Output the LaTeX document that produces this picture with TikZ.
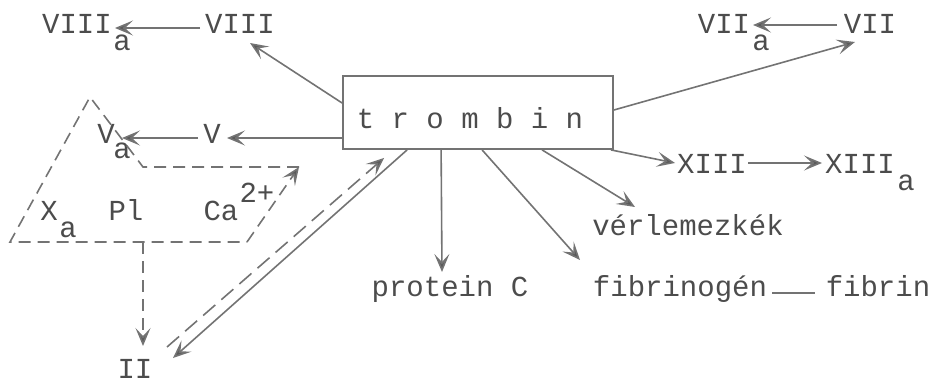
\documentclass[tikz,border=0pt]{standalone}
\usepackage{fontspec}
\setmonofont{Liberation Mono}
\usetikzlibrary{arrows.meta}
\begin{document}
\begin{tikzpicture}[x=1pt,y=-1pt,
  txt/.style={font=\ttfamily\fontsize{29}{34}\selectfont, text=black!70, inner sep=0pt, outer sep=0pt, anchor=base},
  ln/.style={draw=black!55, line width=1.6pt},
  tip/.style={-{Stealth[length=18pt,width=15pt,inset=8pt,fill=black!65]}},
  arr/.style={ln, tip},
  dsh/.style={ln, dash pattern=on 12pt off 7pt},
  dsharr/.style={dsh, tip},
  boxstyle/.style={draw=black!55, line width=1.8pt, minimum width=270pt, minimum height=73pt, inner sep=0pt}]
\useasboundingbox (0,0) rectangle (935,388);

% central box
\node[boxstyle] (trombin) at (478,112.5) {};
\node[txt] (trombintext) at (470,128) {t r o m b i n};

% factor nodes
\node[txt] (VIIIa) at (77,33) {VIII};
\node[txt] (VIIIasub) at (122,50) {a};
\node[txt] (VIII) at (240,33) {VIII};
\node[txt] (VIIa) at (724,33) {VII};
\node[txt] (VIIasub) at (761,50) {a};
\node[txt] (VII) at (870,33) {VII};
\node[txt] (Va) at (106,143) {V};
\node[txt] (Vasub) at (122,158) {a};
\node[txt] (V) at (212,143) {V};
\node[txt] (X) at (49,220) {X};
\node[txt] (Xsub) at (68,237) {a};
\node[txt] (Pl) at (126,220) {Pl};
\node[txt] (Ca) at (221,220) {Ca};
\node[txt] (Casup) at (257,202) {2+};
\node[txt] (II) at (135,378) {II};
\node[txt] (protein) at (450,296) {protein C};
\node[txt] (fibrinogen) at (680,296) {fibrinogén};
\node[txt] (fibrin) at (878,296) {fibrin};
\node[txt] (verlemez) at (688,235) {vérlemezkék};
\node[txt] (XIII) at (712,173) {XIII};
\node[txt] (XIIIa) at (860,173) {XIII};
\node[txt] (XIIIasub) at (906,190) {a};

% activation arrows
\draw[arr] ([xshift=-40pt,yshift=5pt]VIII.base) -- ([xshift=38pt,yshift=5pt]VIIIa.base);
\draw[arr] ([yshift=9.5pt]trombin.west) -- ([xshift=10pt,yshift=-10pt]VIII.base);
\draw[arr] ([xshift=-33pt,yshift=8pt]VII.base) -- ([xshift=29pt,yshift=8pt]VIIa.base);
\draw[arr] ([yshift=2.5pt]trombin.east) -- ([xshift=-15pt,yshift=-9pt]VII.base);
\draw[arr] ([yshift=-25.5pt]trombin.west) -- ([xshift=15pt,yshift=5pt]V.base);
\draw[arr] ([xshift=-14pt,yshift=5pt]V.base) -- ([xshift=16pt,yshift=5pt]Va.base);
\draw[arr] ([xshift=-3pt]trombin.south east) -- ([xshift=-37pt,yshift=10pt]XIII.base);
\draw[arr] ([xshift=36pt,yshift=10pt]XIII.base) -- ([xshift=-38pt,yshift=10pt]XIIIa.base);
\draw[arr] ([xshift=200pt]trombin.south west) -- ([xshift=-53pt,yshift=28pt]verlemez.base);
\draw[arr] ([xshift=140pt]trombin.south west) -- ([xshift=-100pt,yshift=36pt]fibrinogen.base);
\draw[arr] ([xshift=99pt]trombin.south west) -- ([xshift=-8pt,yshift=24pt]protein.base);
\draw[ln, line width=2.4pt] ([xshift=92pt,yshift=3pt]fibrinogen.base) -- ([xshift=-63pt,yshift=3pt]fibrin.base);
\draw[arr] ([xshift=65pt]trombin.south west) -- ([xshift=38pt,yshift=20pt]II.base);
\draw[dsharr, dash pattern=on 16pt off 8pt] ([xshift=32pt,yshift=31pt]II.base) -- ([xshift=42pt,yshift=-8pt]trombin.south west);

% prothrombinase complex (dashed outline)
\coordinate (pTop) at (90,97);
\coordinate (pLeft) at (10,242);
\coordinate (pBot) at (247,242);
\coordinate (pRight) at (299,167);
\coordinate (pIn) at (143,167);
\coordinate (pOut) at (143,242);
\draw[dsh] (pRight) -- (pIn) -- (pTop) -- (pLeft) -- (pBot);
\draw[dsharr] (pBot) -- (pRight);
\draw[dsharr] (pOut) -- ([xshift=8pt,yshift=32pt]II.base);
\end{tikzpicture}
\end{document}
